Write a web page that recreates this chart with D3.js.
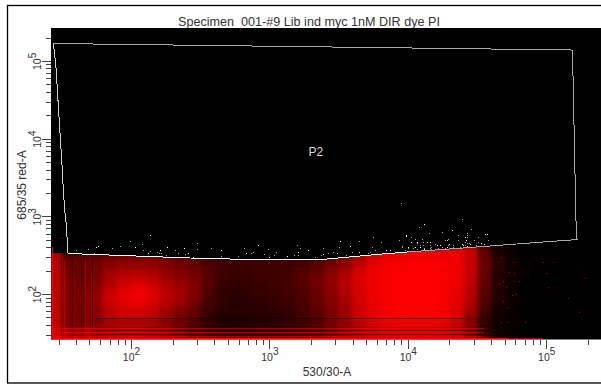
<!DOCTYPE html>
<html lang="en">

<head>
    <meta charset="UTF-8">
    <title>Specimen_001-#9 Lib ind myc 1nM DIR dye PI</title>
    <script src="https://d3js.org/d3.v7.min.js"></script>
    <style>
        body { margin: 0; background: white; overflow: hidden; }
        text { font-family: "Liberation Sans", Arial, sans-serif; fill: #333; }
        .axis path { display: none; }
        .axis line { stroke: #444; shape-rendering: crispEdges; }
        .axis text { font-size: 10.5px; }
    </style>
</head>

<body>
    <script>
        // everything below is in log10 units of the two channels
        const chartTitle = "Specimen_001-#9 Lib ind myc 1nM DIR dye PI";
        const xLabel = "530/30-A", yLabel = "685/35 red-A", gateName = "P2";

        // gate P2, clockwise from the top left corner
        const gateX = [1.44, 5.19, 5.215, 5.223, 4.977, 4.789, 4.594, 4.399, 4.197, 4.0, 3.814, 3.618, 3.416, 2.954, 2.434, 2.231, 2.036, 1.841, 1.646, 1.543, 1.535, 1.523, 1.511, 1.501, 1.487, 1.48, 1.465, 1.458];
        const gateY = [5.224, 5.14, 2.952, 2.701, 2.669, 2.644, 2.618, 2.592, 2.566, 2.541, 2.515, 2.483, 2.45, 2.44, 2.463, 2.476, 2.489, 2.502, 2.515, 2.528, 2.849, 3.042, 3.338, 3.686, 4.072, 4.278, 4.716, 4.909];

        // share of each cell filled with red events, top row first
        const densityRows = [2.6, 2.5, 2.4, 2.3, 2.2, 2.1, 2.0, 1.9, 1.8, 1.7, 1.6, 1.5, 1.4];
        const densityCols = [1.4, 1.5, 1.6, 1.7, 1.8, 1.9, 2.0, 2.1, 2.2, 2.3, 2.4, 2.5, 2.6, 2.7, 2.8, 2.9, 3.0, 3.1, 3.2, 3.3, 3.4, 3.5, 3.6, 3.7, 3.8, 3.9, 4.0, 4.1, 4.2, 4.3, 4.4, 4.5, 4.6, 4.7, 4.8, 4.9, 5.0, 5.1, 5.2, 5.3];
        const density = [
            [50, 0, 0, 0, 0, 0, 0, 0, 0, 0, 0, 0, 0, 0, 0, 0, 0, 0, 0, 0, 0, 0, 0, 0, 0, 0, 0, 0, 0, 0, 60, 25, 4, 1, 0, 0, 0, 0, 0, 0],
            [55, 5, 10, 12, 14, 14, 16, 18, 18, 12, 8, 5, 5, 5, 5, 5, 5, 5, 5, 8, 15, 35, 65, 80, 85, 88, 90, 90, 90, 90, 70, 25, 5, 2, 0, 0, 0, 0, 0, 0],
            [60, 30, 30, 32, 38, 40, 42, 42, 35, 30, 25, 18, 15, 14, 14, 14, 14, 14, 15, 20, 28, 40, 60, 80, 90, 92, 95, 95, 95, 92, 72, 30, 10, 3, 1, 1, 1, 0, 0, 0],
            [62, 32, 30, 35, 45, 50, 52, 50, 42, 35, 30, 22, 16, 15, 15, 16, 16, 16, 20, 26, 38, 50, 72, 88, 95, 97, 98, 98, 97, 92, 72, 30, 10, 3, 1, 0, 0, 0, 1, 0],
            [65, 35, 30, 38, 55, 65, 68, 60, 50, 40, 35, 25, 16, 14, 14, 16, 16, 18, 25, 32, 45, 60, 80, 92, 97, 99, 100, 100, 98, 92, 70, 30, 8, 3, 1, 0, 0, 0, 1, 0],
            [65, 38, 32, 42, 62, 75, 80, 72, 58, 48, 40, 25, 14, 12, 13, 15, 16, 18, 25, 35, 48, 65, 82, 93, 98, 100, 100, 100, 98, 92, 68, 28, 8, 2, 0, 0, 0, 0, 0, 0],
            [65, 38, 34, 48, 72, 85, 92, 82, 65, 55, 42, 22, 12, 10, 12, 14, 15, 18, 22, 32, 45, 62, 80, 92, 97, 100, 100, 100, 98, 90, 65, 25, 8, 2, 0, 0, 1, 0, 0, 0],
            [65, 38, 35, 50, 75, 88, 92, 82, 65, 55, 38, 20, 12, 10, 10, 12, 14, 16, 22, 30, 42, 58, 78, 90, 96, 98, 100, 100, 97, 88, 62, 22, 6, 2, 1, 0, 0, 0, 0, 0],
            [65, 38, 35, 48, 70, 82, 85, 75, 60, 45, 32, 18, 10, 8, 10, 10, 12, 15, 20, 28, 40, 55, 75, 88, 95, 98, 98, 98, 95, 85, 58, 20, 5, 2, 0, 0, 0, 0, 1, 0],
            [65, 38, 35, 45, 65, 72, 72, 65, 50, 38, 28, 14, 8, 7, 8, 10, 10, 12, 18, 25, 38, 52, 72, 85, 92, 95, 96, 96, 92, 80, 52, 16, 4, 1, 0, 0, 0, 0, 0, 0],
            [65, 38, 35, 42, 55, 60, 60, 55, 42, 32, 22, 12, 7, 6, 8, 8, 10, 12, 15, 22, 35, 48, 65, 80, 88, 90, 92, 90, 88, 72, 45, 12, 3, 1, 1, 0, 0, 0, 0, 0],
            [70, 42, 40, 50, 58, 62, 62, 55, 48, 35, 18, 12, 8, 7, 8, 10, 10, 12, 16, 22, 35, 48, 62, 76, 82, 85, 85, 85, 82, 70, 40, 10, 2, 1, 0, 0, 0, 0, 0, 0],
            [80, 55, 50, 60, 65, 68, 68, 62, 52, 42, 28, 22, 18, 15, 15, 18, 18, 20, 24, 30, 42, 52, 66, 75, 82, 85, 85, 85, 82, 72, 45, 15, 4, 2, 1, 0, 0, 0, 0, 0]
        ];

        // low channel values come out quantised, which shows as stripes
        const redStripesX = [1.43, 1.47, 1.52, 1.67];
        const darkStripesX = [1.5, 1.58, 1.64, 1.72];
        const darkLinesY = [1.69, 1.575, 1.524, 1.485];
        const redLinesY = [1.55, 1.511, 1.459, 1.43];

        // events inside the gate (drawn white and grey)
        const gatedX = [2.14, 1.99, 1.92, 1.76, 1.69, 1.6, 1.75, 1.86, 1.73, 2.03, 2.08, 2.09, 2.12, 2.14, 2.19, 2.21, 2.2, 2.22, 2.26, 2.25, 2.32, 2.38, 2.34, 2.39, 2.41, 2.48, 2.58, 2.65, 2.65, 2.48, 2.45, 2.77, 2.82, 2.83, 2.87, 2.88, 2.92, 2.99, 2.96, 3.0, 3.05, 3.03, 3.13, 3.2, 3.22, 3.21, 3.18, 3.21, 3.28, 3.33, 3.39, 3.39, 3.37, 3.42, 3.42, 3.95, 4.39, 4.12, 4.08, 4.15, 4.32, 4.36, 4.25, 3.99, 3.75, 3.65, 3.51, 3.81, 3.94, 4.02, 4.07, 4.11, 4.16, 4.28, 4.29, 4.41, 4.43, 3.5, 3.58, 3.46, 3.55, 3.65, 3.74, 3.76, 3.84, 3.96, 4.0, 4.05, 4.09, 4.16, 4.21, 4.25, 4.33, 4.4, 4.43, 4.07, 4.12, 4.17, 4.27, 4.36, 3.98, 3.91, 3.87, 3.71, 3.73, 3.49, 3.6, 4.46, 4.56, 4.51, 4.43, 4.42, 4.48, 4.58, 4.53, 4.44, 4.49, 4.55, 4.41,
            3.96, 3.99, 4.02, 4.05, 4.07, 4.1, 4.11, 4.14, 4.16, 4.2, 4.23, 4.27, 4.29, 4.3, 4.33, 4.36, 4.39, 4.41, 4.43, 4.45, 4.49, 4.51, 4.09, 4.17, 4.22, 4.28, 4.34, 4.38, 4.43, 4.47, 4.54, 4.0, 4.04, 4.12, 4.57];
        const gatedY = [2.76, 2.68, 2.62, 2.62, 2.58, 2.57, 2.6, 2.59, 2.53, 2.6, 2.64, 2.57, 2.53, 2.55, 2.54, 2.57, 2.53, 2.53, 2.6, 2.5, 2.57, 2.59, 2.53, 2.51, 2.53, 2.66, 2.59, 2.57, 2.49, 2.58, 2.48, 2.49, 2.59, 2.53, 2.53, 2.54, 2.63, 2.58, 2.51, 2.48, 2.54, 2.5, 2.49, 2.63, 2.59, 2.54, 2.5, 2.5, 2.57, 2.48, 2.59, 2.51, 2.5, 2.53, 2.46, 3.17, 2.96, 2.9, 2.86, 2.78, 2.82, 2.76, 2.8, 2.76, 2.73, 2.68, 2.68, 2.67, 2.69, 2.67, 2.66, 2.67, 2.67, 2.69, 2.63, 2.73, 2.78, 2.6, 2.62, 2.54, 2.5, 2.54, 2.6, 2.57, 2.57, 2.6, 2.59, 2.6, 2.63, 2.59, 2.63, 2.6, 2.6, 2.63, 2.66, 2.58, 2.58, 2.6, 2.59, 2.59, 2.57, 2.54, 2.57, 2.53, 2.54, 2.53, 2.54, 2.84, 2.77, 2.73, 2.76, 2.69, 2.69, 2.69, 2.66, 2.66, 2.63, 2.64, 2.63,
            2.62, 2.75, 2.73, 2.71, 2.67, 2.71, 2.63, 2.67, 2.63, 2.64, 2.63, 2.69, 2.71, 2.64, 2.63, 2.69, 2.64, 2.67, 2.73, 2.64, 2.63, 2.67, 2.6, 2.58, 2.59, 2.6, 2.59, 2.6, 2.62, 2.6, 2.62, 2.6, 2.59, 2.59, 2.77];

        // stray events outside the gate (drawn red)
        const strayX = [4.72, 4.76, 4.98, 5.05, 5.0, 4.73, 4.77, 4.8, 5.28, 5.01, 4.71, 4.78, 4.75, 5.16, 5.24, 4.72, 4.85, 4.69, 4.67, 4.66, 4.69, 4.72, 4.67, 1.5];
        const strayY = [2.6, 2.41, 2.41, 2.41, 2.27, 2.28, 2.27, 2.17, 2.21, 2.09, 2.09, 2.0, 1.99, 1.95, 1.77, 1.83, 1.64, 1.91, 2.48, 2.14, 2.17, 1.64, 1.64, 2.72];

        let w = 601, h = 384;
        let plot = { left: 51, top: 28, right: 601, bottom: 339.5 };

        let svg = d3.select("body").append("svg").attr("width", w).attr("height", h);

        svg.append("rect").attr("x", 7.5).attr("y", 5.5).attr("width", 620).attr("height", 377.5)
            .attr("fill", "white").attr("stroke", "black").attr("stroke-width", 1.3);

        const xscale = d3.scaleLog().domain([Math.pow(10, 1.4220), Math.pow(10, 5.396)]).range([plot.left, plot.right]);
        const yscale = d3.scaleLog().domain([Math.pow(10, 1.4145), Math.pow(10, 5.4235)]).range([plot.bottom, plot.top]);
        const px = v => xscale(Math.pow(10, v));
        const py = v => yscale(Math.pow(10, v));

        svg.append("text").attr("x", 309).attr("y", 25.5).attr("text-anchor", "middle").attr("font-size", "12.6px").text(chartTitle);

        svg.append("rect").attr("x", plot.left).attr("y", plot.top)
            .attr("width", plot.right - plot.left).attr("height", plot.bottom - plot.top)
            .attr("fill", "black");

        const defs = svg.append("defs");
        defs.append("clipPath").attr("id", "plotclip").append("rect")
            .attr("x", plot.left).attr("y", plot.top)
            .attr("width", plot.right - plot.left).attr("height", plot.bottom - plot.top);
        defs.append("filter").attr("id", "soft")
            .attr("filterUnits", "userSpaceOnUse").attr("x", 0).attr("y", 0).attr("width", w).attr("height", h)
            .append("feGaussianBlur").attr("stdDeviation", 2);

        // red cloud stops at the lower edge of the gate
        const gatePts = gateX.map((x, i) => [px(x), py(gateY[i])]);
        const lower = gatePts.slice(3, 20);
        const cloudArea = [[plot.right, lower[0][1]]].concat(lower, [[plot.left, lower[lower.length - 1][1]], [plot.left, plot.bottom], [plot.right, plot.bottom]]);
        defs.append("clipPath").attr("id", "cloudclip").append("polygon")
            .attr("points", cloudArea.map(p => p.join(",")).join(" "));

        const cells = density.flatMap((row, r) => row.map((v, c) => ({ x: densityCols[c], y: densityRows[r], v: v })));
        const step = 0.1;

        svg.append("g").attr("clip-path", "url(#cloudclip)")
            .append("g").attr("filter", "url(#soft)")
            .selectAll("rect").data(cells).enter().append("rect")
            .attr("x", d => px(d.x))
            .attr("y", d => py(d.y + step))
            .attr("width", d => px(d.x + step) - px(d.x) + 0.5)
            .attr("height", d => py(d.y) - py(d.y + step) + 0.5)
            .attr("fill", "#ff0000")
            .attr("fill-opacity", d => Math.pow(d.v / 100, 0.8));

        const stripes = svg.append("g").attr("clip-path", "url(#plotclip)").attr("shape-rendering", "crispEdges");

        stripes.selectAll(".vr").data(redStripesX).enter().append("line").attr("class", "vr")
            .attr("x1", d => px(d)).attr("x2", d => px(d))
            .attr("y1", (d, i) => i == 0 ? py(2.6) : py(2.42)).attr("y2", plot.bottom)
            .attr("stroke", "#ff0000").attr("stroke-opacity", (d, i) => i == 0 ? 0.9 : 0.45);
        stripes.selectAll(".vd").data(darkStripesX).enter().append("line").attr("class", "vd")
            .attr("x1", d => px(d)).attr("x2", d => px(d))
            .attr("y1", py(2.45)).attr("y2", plot.bottom)
            .attr("stroke", "black").attr("stroke-opacity", 0.45);
        stripes.selectAll(".hd").data(darkLinesY).enter().append("line").attr("class", "hd")
            .attr("x1", px(1.75)).attr("x2", px(4.55))
            .attr("y1", d => py(d)).attr("y2", d => py(d))
            .attr("stroke", "black").attr("stroke-opacity", 0.4);
        stripes.selectAll(".hr").data(redLinesY).enter().append("line").attr("class", "hr")
            .attr("x1", plot.left).attr("x2", (d, i) => px(i == 3 ? 4.72 : 4.55))
            .attr("y1", d => py(d)).attr("y2", d => py(d))
            .attr("stroke", "#ff0000").attr("stroke-opacity", (d, i) => i == 3 ? 1 : 0.55);
        stripes.append("line")
            .attr("x1", px(4.72)).attr("x2", px(4.98))
            .attr("y1", py(redLinesY[3])).attr("y2", py(redLinesY[3]))
            .attr("stroke", "#a00000");

        svg.append("g").attr("clip-path", "url(#plotclip)").attr("shape-rendering", "crispEdges")
            .selectAll("rect").data(strayX).enter().append("rect")
            .attr("x", d => Math.round(px(d))).attr("y", (d, i) => Math.round(py(strayY[i])))
            .attr("width", 1).attr("height", 1).attr("fill", "#b80000");

        svg.append("g").attr("shape-rendering", "crispEdges")
            .selectAll("rect").data(gatedX).enter().append("rect")
            .attr("x", d => Math.round(px(d))).attr("y", (d, i) => Math.round(py(gatedY[i])))
            .attr("width", 1).attr("height", 1).attr("fill", (d, i) => i % 3 == 0 ? "#ffffff" : "#a8a8a8");

        // gate outline: grey all round, white along the part over the dim events
        svg.append("polygon").attr("points", gatePts.map(p => p.join(",")).join(" "))
            .attr("fill", "none").attr("stroke", "#a6a6a6").attr("stroke-width", 1).attr("shape-rendering", "crispEdges");
        svg.append("polyline").attr("points", gatePts.slice(9, 20).map(p => p.join(",")).join(" "))
            .attr("fill", "none").attr("stroke", "white").attr("stroke-width", 1).attr("shape-rendering", "crispEdges");
        svg.append("polyline").attr("points", gatePts.slice(19).concat([gatePts[0]]).map(p => p.join(",")).join(" "))
            .attr("fill", "none").attr("stroke", "#d0d0d0").attr("stroke-width", 1).attr("shape-rendering", "crispEdges");

        svg.append("text").attr("x", px(3.335)).attr("y", py(3.77))
            .attr("text-anchor", "middle").style("fill", "#d8d8d8").attr("font-size", "12px").text(gateName);

        // log axes with 2..9 minor ticks per decade
        function allTicks(scale) {
            const [a, b] = scale.domain();
            return d3.range(1, 6).flatMap(e => d3.range(1, 10).map(m => m * Math.pow(10, e))).filter(v => v >= a && v <= b);
        }
        const isMajor = v => Math.abs(Math.log10(v) % 1) < 1e-6;

        const xAxis = svg.append("g").attr("class", "axis")
            .attr("transform", `translate(0,${plot.bottom})`)
            .call(d3.axisBottom(xscale).tickValues(allTicks(xscale)).tickSize(5.5).tickFormat(""));
        xAxis.selectAll(".tick line").attr("y2", d => isMajor(d) ? 9 : 5.5);
        xAxis.selectAll(".tick").filter(isMajor).select("text")
            .attr("y", 13.5).attr("dy", 0).attr("dominant-baseline", "hanging").attr("text-anchor", "middle")
            .each(function (d) {
                const t = d3.select(this);
                t.append("tspan").text("10");
                t.append("tspan").attr("dy", -5).attr("font-size", "10px").text(Math.round(Math.log10(d)));
            });

        const yAxis = svg.append("g").attr("class", "axis")
            .attr("transform", `translate(${plot.left},0)`)
            .call(d3.axisLeft(yscale).tickValues(allTicks(yscale)).tickSize(5.5).tickFormat(""));
        yAxis.selectAll(".tick line").attr("x2", d => isMajor(d) ? -9 : -5.5);
        yAxis.selectAll(".tick").filter(isMajor).select("text")
            .attr("x", 0).attr("y", 0).attr("dy", 0).attr("text-anchor", "middle")
            .attr("transform", "translate(-10.5,0) rotate(-90)")
            .each(function (d) {
                const t = d3.select(this);
                t.append("tspan").text("10");
                t.append("tspan").attr("dy", -5).attr("font-size", "10px").text(Math.round(Math.log10(d)));
            });

        svg.append("text").attr("x", 327).attr("y", 376).attr("text-anchor", "middle").attr("font-size", "12px").text(xLabel);
        svg.append("text").attr("transform", "translate(25.5,185) rotate(-90)").attr("text-anchor", "middle").attr("font-size", "12px").text(yLabel);
    </script>
</body>
